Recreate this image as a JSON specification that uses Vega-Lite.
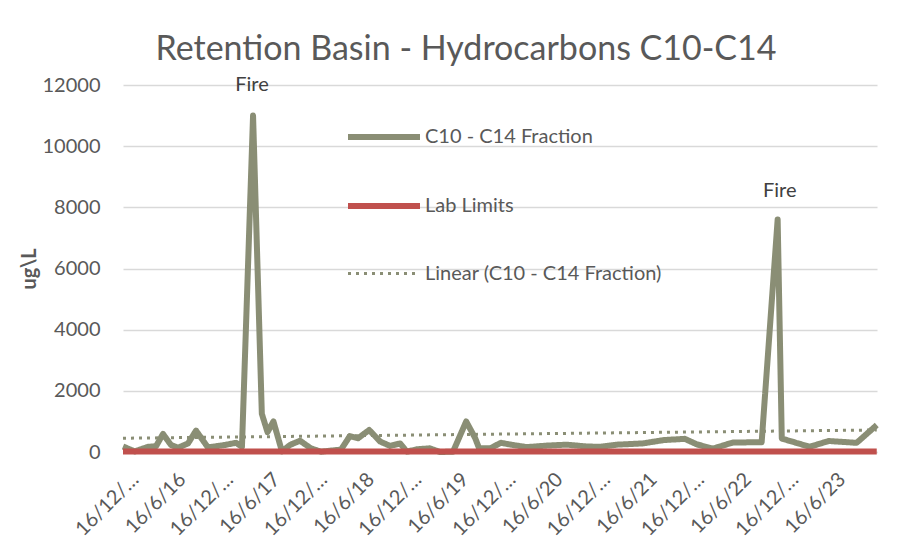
{
  "$schema": "https://vega.github.io/schema/vega-lite/v6.json",
  "width": 754,
  "height": 367,
  "autosize": {"type": "none"},
  "padding": {"left": 123, "top": 85, "right": 25, "bottom": 98},
  "background": "white",
  "config": {"font": "Lato", "view": {"stroke": null}},
  "title": {"text": "Retention Basin - Hydrocarbons C10-C14", "fontSize": 34, "fontWeight": "normal", "color": "#595959", "anchor": "middle", "dx": -34, "offset": 8},
  "datasets": {
    "series": [
      {"date": "2015-12-16", "value": 180, "series": "C10 - C14 Fraction"},
      {"date": "2016-01-31", "value": 20, "series": "C10 - C14 Fraction"},
      {"date": "2016-03-22", "value": 170, "series": "C10 - C14 Fraction"},
      {"date": "2016-04-22", "value": 190, "series": "C10 - C14 Fraction"},
      {"date": "2016-05-19", "value": 590, "series": "C10 - C14 Fraction"},
      {"date": "2016-06-19", "value": 230, "series": "C10 - C14 Fraction"},
      {"date": "2016-07-16", "value": 140, "series": "C10 - C14 Fraction"},
      {"date": "2016-08-24", "value": 280, "series": "C10 - C14 Fraction"},
      {"date": "2016-09-24", "value": 700, "series": "C10 - C14 Fraction"},
      {"date": "2016-11-09", "value": 150, "series": "C10 - C14 Fraction"},
      {"date": "2017-01-14", "value": 230, "series": "C10 - C14 Fraction"},
      {"date": "2017-02-26", "value": 300, "series": "C10 - C14 Fraction"},
      {"date": "2017-03-21", "value": 170, "series": "C10 - C14 Fraction"},
      {"date": "2017-05-03", "value": 11000, "series": "C10 - C14 Fraction"},
      {"date": "2017-06-06", "value": 1250, "series": "C10 - C14 Fraction"},
      {"date": "2017-06-28", "value": 650, "series": "C10 - C14 Fraction"},
      {"date": "2017-07-21", "value": 1000, "series": "C10 - C14 Fraction"},
      {"date": "2017-08-23", "value": 20, "series": "C10 - C14 Fraction"},
      {"date": "2017-09-23", "value": 230, "series": "C10 - C14 Fraction"},
      {"date": "2017-11-01", "value": 370, "series": "C10 - C14 Fraction"},
      {"date": "2017-12-13", "value": 120, "series": "C10 - C14 Fraction"},
      {"date": "2018-01-21", "value": 10, "series": "C10 - C14 Fraction"},
      {"date": "2018-04-09", "value": 80, "series": "C10 - C14 Fraction"},
      {"date": "2018-05-13", "value": 520, "series": "C10 - C14 Fraction"},
      {"date": "2018-06-14", "value": 450, "series": "C10 - C14 Fraction"},
      {"date": "2018-07-27", "value": 720, "series": "C10 - C14 Fraction"},
      {"date": "2018-09-08", "value": 340, "series": "C10 - C14 Fraction"},
      {"date": "2018-10-16", "value": 200, "series": "C10 - C14 Fraction"},
      {"date": "2018-11-24", "value": 280, "series": "C10 - C14 Fraction"},
      {"date": "2018-12-20", "value": 10, "series": "C10 - C14 Fraction"},
      {"date": "2019-01-28", "value": 90, "series": "C10 - C14 Fraction"},
      {"date": "2019-03-19", "value": 120, "series": "C10 - C14 Fraction"},
      {"date": "2019-04-27", "value": 0, "series": "C10 - C14 Fraction"},
      {"date": "2019-06-17", "value": 10, "series": "C10 - C14 Fraction"},
      {"date": "2019-08-07", "value": 1000, "series": "C10 - C14 Fraction"},
      {"date": "2019-09-11", "value": 450, "series": "C10 - C14 Fraction"},
      {"date": "2019-09-26", "value": 120, "series": "C10 - C14 Fraction"},
      {"date": "2019-11-08", "value": 120, "series": "C10 - C14 Fraction"},
      {"date": "2019-12-19", "value": 300, "series": "C10 - C14 Fraction"},
      {"date": "2020-02-04", "value": 230, "series": "C10 - C14 Fraction"},
      {"date": "2020-03-29", "value": 160, "series": "C10 - C14 Fraction"},
      {"date": "2020-06-15", "value": 210, "series": "C10 - C14 Fraction"},
      {"date": "2020-08-31", "value": 240, "series": "C10 - C14 Fraction"},
      {"date": "2020-11-17", "value": 180, "series": "C10 - C14 Fraction"},
      {"date": "2021-01-06", "value": 170, "series": "C10 - C14 Fraction"},
      {"date": "2021-03-13", "value": 240, "series": "C10 - C14 Fraction"},
      {"date": "2021-06-21", "value": 280, "series": "C10 - C14 Fraction"},
      {"date": "2021-09-11", "value": 390, "series": "C10 - C14 Fraction"},
      {"date": "2021-12-01", "value": 430, "series": "C10 - C14 Fraction"},
      {"date": "2022-01-17", "value": 250, "series": "C10 - C14 Fraction"},
      {"date": "2022-03-20", "value": 110, "series": "C10 - C14 Fraction"},
      {"date": "2022-06-05", "value": 310, "series": "C10 - C14 Fraction"},
      {"date": "2022-09-25", "value": 320, "series": "C10 - C14 Fraction"},
      {"date": "2022-11-26", "value": 7600, "series": "C10 - C14 Fraction"},
      {"date": "2022-12-12", "value": 440, "series": "C10 - C14 Fraction"},
      {"date": "2023-03-30", "value": 170, "series": "C10 - C14 Fraction"},
      {"date": "2023-06-12", "value": 360, "series": "C10 - C14 Fraction"},
      {"date": "2023-09-28", "value": 300, "series": "C10 - C14 Fraction"},
      {"date": "2023-12-15", "value": 880, "series": "C10 - C14 Fraction"},
      {"date": "2015-12-16", "value": 20, "series": "Lab Limits"},
      {"date": "2023-12-15", "value": 20, "series": "Lab Limits"},
      {"date": "2015-12-16", "value": 450, "series": "Linear (C10 - C14 Fraction)"},
      {"date": "2023-12-15", "value": 720, "series": "Linear (C10 - C14 Fraction)"}
    ],
    "notes": [
      {"date": "2017-04-29", "value": 12000, "label": "Fire"},
      {"date": "2022-12-04", "value": 8550, "label": "Fire"}
    ]
  },
  "layer": [
    {
      "data": {"name": "series"},
      "mark": {"type": "line", "strokeJoin": "round"},
      "encoding": {
        "x": {
          "field": "date", "type": "temporal",
          "scale": {"domain": [{"year": 2015, "month": 12, "date": 16, "utc": true}, {"year": 2023, "month": 12, "date": 16, "utc": true}]},
          "axis": {
            "title": null,
            "values": [
              {"year": 2015, "month": 12, "date": 16, "utc": true},
              {"year": 2016, "month": 6, "date": 16, "utc": true},
              {"year": 2016, "month": 12, "date": 16, "utc": true},
              {"year": 2017, "month": 6, "date": 16, "utc": true},
              {"year": 2017, "month": 12, "date": 16, "utc": true},
              {"year": 2018, "month": 6, "date": 16, "utc": true},
              {"year": 2018, "month": 12, "date": 16, "utc": true},
              {"year": 2019, "month": 6, "date": 16, "utc": true},
              {"year": 2019, "month": 12, "date": 16, "utc": true},
              {"year": 2020, "month": 6, "date": 16, "utc": true},
              {"year": 2020, "month": 12, "date": 16, "utc": true},
              {"year": 2021, "month": 6, "date": 16, "utc": true},
              {"year": 2021, "month": 12, "date": 16, "utc": true},
              {"year": 2022, "month": 6, "date": 16, "utc": true},
              {"year": 2022, "month": 12, "date": 16, "utc": true},
              {"year": 2023, "month": 6, "date": 16, "utc": true}
            ],
            "labelExpr": "utcmonth(datum.value) == 11 ? '16/12/…' : utcFormat(datum.value, '%-d/%-m/%y')",
            "labelAngle": -45,
            "labelAlign": "right",
            "labelBaseline": "top",
            "labelFontSize": 20,
            "labelColor": "#595959",
            "labelPadding": 17,
            "labelOffset": 5,
            "labelOverlap": false,
            "labelBound": false,
            "ticks": false,
            "grid": false,
            "domain": true,
            "domainColor": "#D9D9D9",
            "domainWidth": 1.5
          }
        },
        "y": {
          "field": "value", "type": "quantitative",
          "scale": {"domain": [0, 12000], "nice": false},
          "axis": {
            "title": "ug\\L",
            "titleFontSize": 20,
            "titleFontWeight": "bold",
            "titleColor": "#595959",
            "titlePadding": 3,
            "values": [0, 2000, 4000, 6000, 8000, 10000, 12000],
            "format": "d",
            "labelFontSize": 20,
            "labelColor": "#595959",
            "labelPadding": 23,
            "ticks": false,
            "domain": false,
            "grid": true,
            "gridColor": "#D9D9D9",
            "gridWidth": 1.5
          }
        },
        "color": {
          "field": "series", "type": "nominal",
          "scale": {"domain": ["C10 - C14 Fraction", "Lab Limits", "Linear (C10 - C14 Fraction)"], "range": ["#8A8E75", "#C0504D", "#8A8E75"]},
          "legend": {
            "title": null,
            "orient": "none",
            "legendX": 222,
            "legendY": 13,
            "symbolType": "stroke",
            "symbolSize": 5184,
            "rowPadding": 18,
            "labelFontSize": 20,
            "labelColor": "#595959",
            "labelOffset": 2,
            "labelLimit": 0
          }
        },
        "strokeDash": {
          "field": "series", "type": "nominal",
          "scale": {"domain": ["C10 - C14 Fraction", "Lab Limits", "Linear (C10 - C14 Fraction)"], "range": [[1, 0], [1, 0], [3, 5]]},
          "legend": null
        },
        "strokeWidth": {
          "field": "series", "type": "nominal",
          "scale": {"type": "ordinal", "domain": ["C10 - C14 Fraction", "Lab Limits", "Linear (C10 - C14 Fraction)"], "range": [6, 6, 3]},
          "legend": null
        }
      }
    },
    {
      "data": {"name": "notes"},
      "mark": {"type": "text", "fontSize": 20, "color": "#404040", "baseline": "middle", "align": "center"},
      "encoding": {
        "x": {"field": "date", "type": "temporal"},
        "y": {"field": "value", "type": "quantitative"},
        "text": {"field": "label"}
      }
    }
  ]
}
